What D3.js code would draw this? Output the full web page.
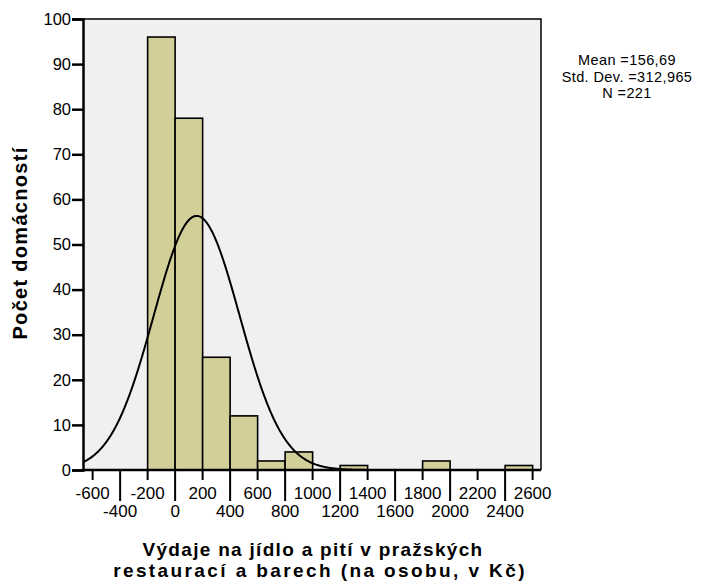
<!DOCTYPE html>
<html>
<head>
<meta charset="utf-8">
<script src="https://cdn.jsdelivr.net/npm/d3@7"></script>
<style>
  body { margin: 0; background: #fff; }
  text { font-family: "Liberation Sans", Arial, sans-serif; }
</style>
</head>
<body>
<div id="chart"></div>
<script>
// histogram bins (lower edge, Kč) and counts
var binStarts = [-200, 0, 200, 400, 600, 800, 1000, 1200, 1400, 1600, 1800, 2000, 2200, 2400];
var binCounts = [96, 78, 25, 12, 2, 4, 0, 1, 0, 0, 2, 0, 0, 1];
var binWidth = 200;

// tick labels
var xTicks = [-600, -400, -200, 0, 200, 400, 600, 800, 1000, 1200, 1400, 1600, 1800, 2000, 2200, 2400, 2600];
var yTicks = [0, 10, 20, 30, 40, 50, 60, 70, 80, 90, 100];

// statistics shown at the right
var mean = 156.69;
var stdDev = 312.965;
var n = 221;
var statLines = ["Mean =156,69", "Std. Dev. =312,965", "N =221"];

var svgWidth = 705;
var svgHeight = 581;

var margin = { top: 19, right: 164, bottom: 111, left: 83 };
var chartWidth = svgWidth - margin.left - margin.right;
var chartHeight = svgHeight - margin.top - margin.bottom;

var svg = d3.select("#chart")
  .append("svg")
  .attr("width", svgWidth)
  .attr("height", svgHeight);

var chartGroup = svg.append("g")
  .attr("transform", `translate(${margin.left}, ${margin.top})`);

var x = d3.scaleLinear().domain([-670, 2661]).range([0, chartWidth]);
var y = d3.scaleLinear().domain([0, 100]).range([chartHeight, 0]);

// plot background
chartGroup.append("rect")
  .attr("width", chartWidth)
  .attr("height", chartHeight)
  .attr("fill", "#f0f0f0");

// bars
var bins = binStarts.map((s, i) => ({ x0: s, x1: s + binWidth, count: binCounts[i] }))
  .filter(d => d.count > 0);

chartGroup.selectAll(".bar")
  .data(bins)
  .enter()
  .append("rect")
  .attr("class", "bar")
  .attr("x", d => x(d.x0))
  .attr("y", d => y(d.count))
  .attr("width", d => x(d.x1) - x(d.x0))
  .attr("height", d => y(0) - y(d.count))
  .attr("fill", "#d3cf98")
  .attr("stroke", "#000")
  .attr("stroke-width", 1.6);

// normal curve scaled to counts
chartGroup.append("clipPath").attr("id", "clip")
  .append("rect").attr("width", chartWidth).attr("height", chartHeight);
var curveXs = d3.range(-670, 2662, 5);
var normal = v => n * binWidth / (stdDev * Math.sqrt(2 * Math.PI)) *
  Math.exp(-0.5 * Math.pow((v - mean) / stdDev, 2));

chartGroup.append("path")
  .datum(curveXs)
  .attr("clip-path", "url(#clip)")
  .attr("fill", "none")
  .attr("stroke", "#000")
  .attr("stroke-width", 2)
  .attr("d", d3.line().x(d => x(d)).y(d => y(normal(d))));

// frame (top and right)
chartGroup.append("path")
  .attr("d", `M0,0H${chartWidth}V${chartHeight}`)
  .attr("fill", "none")
  .attr("stroke", "#000")
  .attr("stroke-width", 1.5);

// y axis
var leftAxis = d3.axisLeft(y).tickValues(yTicks).tickSize(11).tickPadding(1);
var yAxisG = chartGroup.append("g").call(leftAxis);
yAxisG.select(".domain").attr("stroke-width", 2.5);
yAxisG.selectAll(".tick line").attr("stroke-width", 2.5);
yAxisG.selectAll("text")
  .attr("font-size", 16.5)
  .attr("font-family", "'Liberation Sans', Arial, sans-serif")
  .attr("fill", "#000");

// x axis with staggered labels
var xAxisG = chartGroup.append("g")
  .attr("transform", `translate(0, ${chartHeight})`);
xAxisG.append("line")
  .attr("x1", 0).attr("x2", chartWidth)
  .attr("stroke", "#000").attr("stroke-width", 2.5);

var xt = xAxisG.selectAll(".xtick")
  .data(xTicks)
  .enter()
  .append("g")
  .attr("transform", d => `translate(${x(d)},0)`);

xt.append("line")
  .attr("y2", (d, i) => i % 2 === 0 ? 10 : 31)
  .attr("stroke", "#000")
  .attr("stroke-width", 2);

xt.append("text")
  .attr("y", (d, i) => i % 2 === 0 ? 29 : 47)
  .attr("text-anchor", "middle")
  .attr("font-size", 17)
  .text(d => d);

// axis titles
svg.append("text")
  .attr("transform", "translate(27, 243) rotate(-90)")
  .attr("text-anchor", "middle")
  .attr("font-size", 20)
  .attr("font-weight", "bold")
  .attr("letter-spacing", 1.3)
  .text("Počet domácností");

svg.append("text")
  .attr("x", 313)
  .attr("y", 556)
  .attr("text-anchor", "middle")
  .attr("font-size", 19)
  .attr("font-weight", "bold")
  .attr("letter-spacing", 1.3)
  .text("Výdaje na jídlo a pití v pražských");

svg.append("text")
  .attr("x", 320)
  .attr("y", 577)
  .attr("text-anchor", "middle")
  .attr("font-size", 19)
  .attr("font-weight", "bold")
  .attr("letter-spacing", 2.4)
  .text("restaurací a barech (na osobu, v Kč)");

// stats box
svg.selectAll(".stat")
  .data(statLines)
  .enter()
  .append("text")
  .attr("x", 627)
  .attr("y", (d, i) => 65 + i * 16.5)
  .attr("text-anchor", "middle")
  .attr("font-size", 14.5)
  .attr("letter-spacing", 0.4)
  .text(d => d);
</script>
</body>
</html>
